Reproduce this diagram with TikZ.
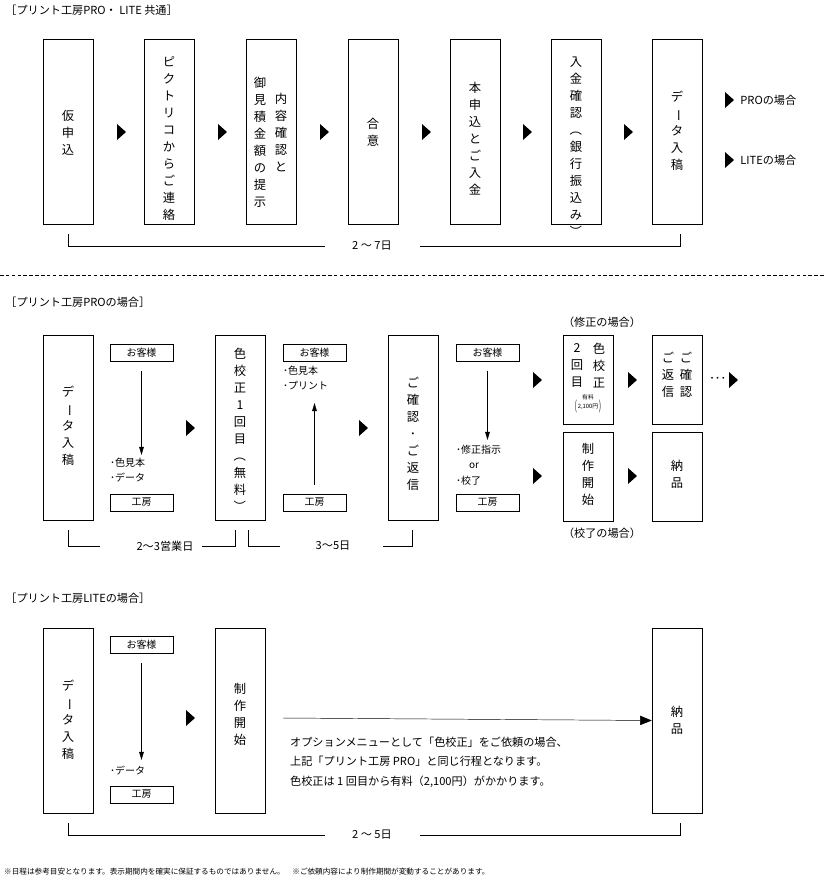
\documentclass[tikz,border=0pt]{standalone}
\usepackage{fontspec}
\setmainfont{Noto Sans CJK JP}
\usepackage{graphicx}
\usetikzlibrary{arrows.meta}
\newcommand{\rt}[1]{\rotatebox[origin=c]{-90}{#1}}
\newcommand{\tri}[2]{\fill (#1-4,#2-8) -- (#1+5,#2) -- (#1-4,#2+8) -- cycle;}
\newcommand{\vtfont}{\fontsize{10.5}{14.5}\selectfont\lineskiplimit=-10pt\lineskip=0pt\relax}
\tikzset{
  box/.style={draw, minimum width=1.5cm, minimum height=5.55cm, inner sep=0pt},
  half/.style={draw, minimum width=1.5cm, minimum height=2.67cm, inner sep=0pt},
  vt/.style={align=center, font=\vtfont, inner sep=0pt, anchor=north},
  who/.style={draw, minimum width=1.89cm, minimum height=0.5cm, inner sep=0pt, font=\fontsize{8.5}{10}\selectfont},
  note/.style={font=\fontsize{8.5}{13}\selectfont, align=left, anchor=north west, inner sep=0pt},
  lbl/.style={font=\fontsize{9.5}{12}\selectfont, inner sep=1pt},
  flow/.style={-{Triangle[length=7pt,width=4pt]}, shorten <=8pt}
}
\begin{document}
\begin{tikzpicture}[x=0.03cm, y=-0.03cm]
\useasboundingbox (0,0) rectangle (825,885);

% common
\node[lbl, anchor=west] (ttlA) at (4,10) {［プリント工房PRO・ LITE 共通］};
\node[box] (kari) at (68,131.5) {};
\node[vt] at (68,110) {仮\\申\\込};
\node[box] (renraku) at (169,131.5) {};
\node[vt] at (169,56) {ピ\\ク\\ト\\リ\\コ\\か\\ら\\ご\\連\\絡};
\node[box] (mitsu) at (271,131.5) {};
\node[vt] at (281,93) {内\\容\\確\\認\\と};
\node[vt] at (260,77) {御\\見\\積\\金\\額\\の\\提\\示};
\node[box] (goi) at (373,131.5) {};
\node[vt] at (373,118) {合\\意};
\node[box] (hon) at (475,131.5) {};
\node[vt] at (475,82) {本\\申\\込\\と\\ご\\入\\金};
\node[box] (nyukin) at (576,131.5) {};
\node[vt] at (576,57) {入\\金\\確\\認\\\rt{（}\\銀\\行\\振\\込\\み\\\rt{）}};
\node[box] (data) at (677,131.5) {};
\node[vt] at (677,91) {デ\\\rt{ー}\\タ\\入\\稿};
\foreach \x in {121,222,324,426,527,628} {\tri{\x}{132}}
\tri{729}{100} \node[lbl, anchor=west] (toPRO) at (739,100) {PROの場合};
\tri{729}{160} \node[lbl, anchor=west] (toLITE) at (739,160) {LITEの場合};
\node[lbl] (daysA) at (372,246) {2 ～ 7日};
\draw (68,234) |- (325,246);
\draw (420,246) -| (680,234);
\draw[dash pattern=on 3pt off 2pt] (0,275) -- (825,275);

% PRO
\node[lbl, anchor=west] (ttlB) at (4,302) {［プリント工房PROの場合］};
\node[box] (dataB) at (68,428) {};
\node[vt] at (68,386) {デ\\\rt{ー}\\タ\\入\\稿};
\node[who] (cusA) at (141.5,353) {お客様};
\node[who] (kobA) at (141.5,502.5) {工房};
\coordinate (endA) at (141.5,455);
\draw[flow] (cusA.south) -- (endA);
\node[note] at (110,458) {･色見本\\･データ};
\tri{190}{428}
\node[box] (iro1) at (240,428) {};
\node[vt] at (240,348) {色\\校\\正\\1\\回\\目\\\rt{（}\\無\\料\\\rt{）}};
\node[who] (cusB) at (314.5,353) {お客様};
\node[who] (kobB) at (314.5,502.5) {工房};
\coordinate (endB) at (314.5,403);
\draw[flow] (kobB.north) -- (endB);
\node[note] at (283,366) {･色見本\\･プリント};
\tri{363}{428}
\node[box] (kaku) at (413,428) {};
\node[vt] at (413,377) {ご\\確\\認\\･\\ご\\返\\信};
\node[who] (cusC) at (487.5,353) {お客様};
\node[who] (kobC) at (487.5,502.5) {工房};
\coordinate (endC) at (487.5,440);
\draw[flow] (cusC.south) -- (endC);
\node[note] at (456,445) {･修正指示\\\hspace{1.3em}or\\･校了};
\tri{537}{380}
\tri{537}{476}
\node[half] (iro2) at (588,379.5) {};
\node[vt] at (599,343) {色\\校\\正};
\node[vt] at (577,343) {2\\回\\目};
\node[font=\fontsize{5}{6}\selectfont, align=center, inner sep=0pt] at (588,404) {\raisebox{-2pt}{\scalebox{1}[2.2]{(}}\,\shortstack{有料\\2,100円}\,\raisebox{-2pt}{\scalebox{1}[2.2]{)}}};
\node[half] (seisaku) at (588,477) {};
\node[vt] at (588,443) {制\\作\\開\\始};
\tri{632}{380}
\tri{632}{476}
\node[half] (kaku2) at (677,379.5) {};
\node[vt] at (686,352) {ご\\確\\認};
\node[vt] at (668,352) {ご\\返\\信};
\node[half] (nohin) at (677,477) {};
\node[vt] at (677,460) {納\\品};
\node[lbl, anchor=west] (cont) at (708,380) {･･･};
\tri{733}{380}
\node[lbl] (shusei) at (602,322) {（修正の場合）};
\node[lbl] (koryo) at (602,533) {（校了の場合）};
\node[lbl] (daysB) at (165,546) {2～3営業日};
\draw (68,530) |- (100,546);
\draw (202,546) -| (235,530);
\node[lbl] (daysC) at (333,546) {3～5日};
\draw (248,530) |- (280,546);
\draw (383,546) -| (412,530);

% LITE
\node[lbl, anchor=west] (ttlC) at (4,598) {［プリント工房LITEの場合］};
\node[box] (dataC) at (68,720.5) {};
\node[vt] at (68,680) {デ\\\rt{ー}\\タ\\入\\稿};
\node[who] (cusD) at (141.5,645) {お客様};
\node[who] (kobD) at (141.5,794.5) {工房};
\coordinate (endD) at (141.5,760);
\draw[flow] (cusD.south) -- (endD);
\node[note] at (110,766) {･データ};
\tri{190}{718}
\node[box] (seisakuC) at (240,720.5) {};
\node[vt] at (240,683) {制\\作\\開\\始};
\node[box] (nohinC) at (677,720.5) {};
\node[vt] at (677,706) {納\\品};
\coordinate (startE) at (283,718);
\draw[-{Triangle[length=10pt,width=8pt]}] (startE) -- (nohinC.west);
\node[font=\fontsize{9.5}{16.5}\selectfont, align=left, anchor=north west, inner sep=0pt] (opt) at (290,737)
 {オプションメニューとして「色校正」をご依頼の場合、\\上記「プリント工房 PRO」と同じ行程となります。\\色校正は 1 回目から有料（2,100円）がかかります。};
\node[lbl] (daysD) at (372,835) {2 ～ 5日};
\draw (68,823) |- (325,835);
\draw (420,835) -| (680,823);
\node[font=\fontsize{6.5}{8}\selectfont, anchor=west, inner sep=0pt] (foot) at (4,872)
 {※日程は参考目安となります。表示期間内を確実に保証するものではありません。\quad ※ご依頼内容により制作期間が変動することがあります。};
\end{tikzpicture}
\end{document}
